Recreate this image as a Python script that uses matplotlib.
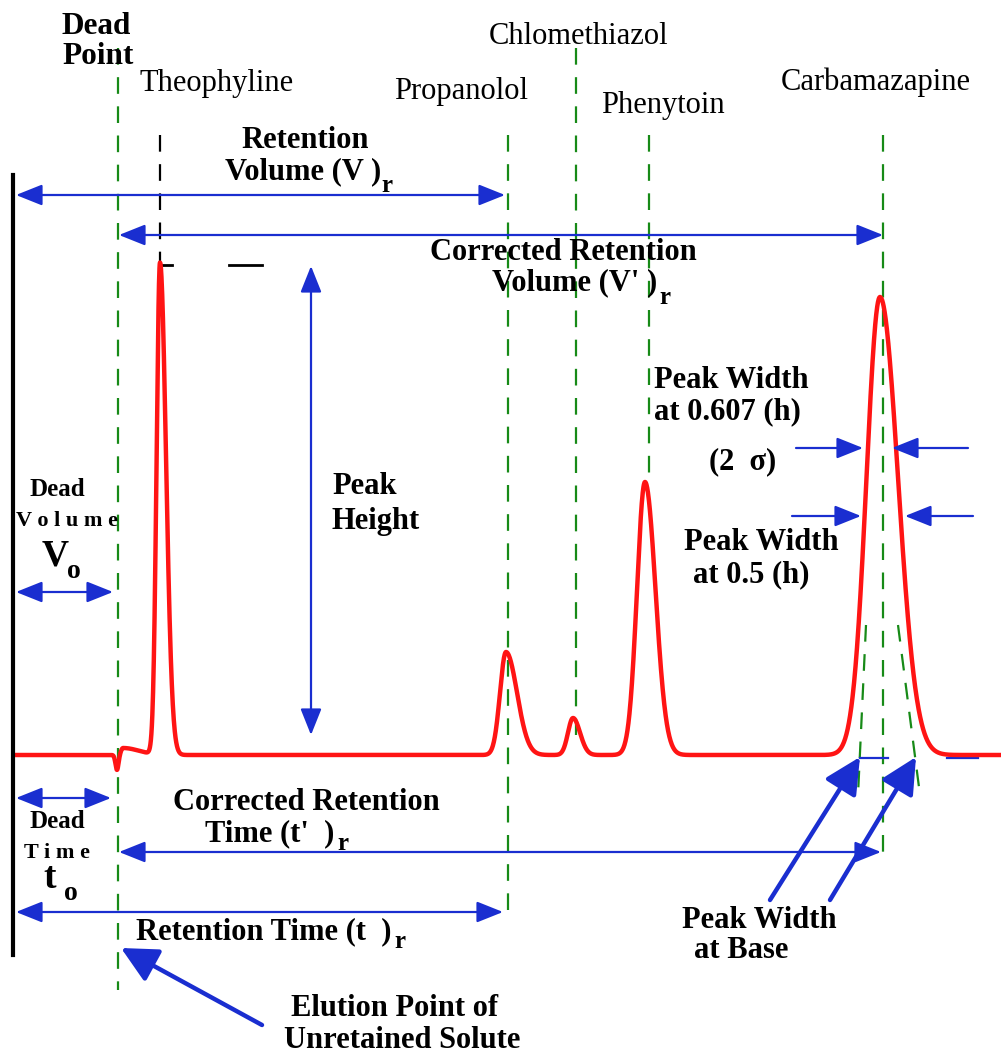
"""
Chromatogram diagram: retention volume / time, peak height and peak widths.
"""

import numpy as np
import matplotlib
matplotlib.use('Agg')
import matplotlib.pyplot as plt

plt.rcParams['font.family'] = ['Liberation Serif', 'DejaVu Serif']
plt.rcParams['lines.scale_dashes'] = False

# ── 색상 / 기본 설정 ──
RED = '#ff1414'
BLUE = '#1a2ed0'
GREEN = '#178a17'
BASE_PX = 755          # baseline row of the picture (pixels from top)
W, H = 1001, 1053

# ── 피크 데이터 (위치, 높이, 왼쪽/오른쪽 폭) ──
peak_names = ['Theophyline', 'Propanolol', 'Chlomethiazol', 'Phenytoin', 'Carbamazapine']
peak_pos = [160, 506, 573, 645, 880]
peak_height = [492, 103, 37, 273, 458]
peak_sig_left = [3.4, 6.0, 5.0, 8.0, 13.5]
peak_sig_right = [6.0, 11.0, 7.0, 10.5, 18.0]

# dead-point disturbance (dip + small step)
dist_pos = [117, 123]
dist_height = [-15, 7]
dist_sig_left = [1.5, 2.0]
dist_sig_right = [1.5, 16.0]

# ── 피크 라벨 위치 ──
label_x = [217, 461, 579, 663, 876]
label_y = [84, 91, 37, 106, 82]


def Y(p):
    """pixel row -> data y (up = signal)"""
    return BASE_PX - p


def bigauss(x, pos, h, sl, sr):
    s = np.where(x < pos, sl, sr)
    return h * np.exp(-0.5 * ((x - pos) / s) ** 2)


fig = plt.figure(figsize=(W / 100, H / 100), dpi=100)
ax = fig.add_axes([0, 0, 1, 1])
ax.set_xlim(0, W)
ax.set_ylim(Y(H), Y(0))
ax.axis('off')

# ── 크로마토그램 ──
x = np.linspace(15, W, 4000)
signal = np.zeros_like(x)
for p, h, sl, sr in zip(peak_pos, peak_height, peak_sig_left, peak_sig_right):
    signal += bigauss(x, p, h, sl, sr)
for p, h, sl, sr in zip(dist_pos, dist_height, dist_sig_left, dist_sig_right):
    signal += bigauss(x, p, h, sl, sr)
ax.plot(x, signal, color=RED, lw=3.2, solid_joinstyle='round', zorder=3)

# ── 검은 세로축 ──
ax.plot([13, 13], [Y(175), Y(955)], color='black', lw=3.0, zorder=4)

# ── 초록 점선 (머무름 위치) ──
DASH = (0, (12, 9))
green_lines = [
    (118, 48, 990),
    (508, 135, 918),
    (576, 48, 735),
    (649, 135, 482),
    (883, 135, 860),
]
for gx, y0, y1 in green_lines:
    ax.plot([gx, gx], [Y(y0), Y(y1)], color=GREEN, lw=1.6, ls=DASH, zorder=2)
# tangent lines of the last peak
ax.plot([866, 858], [Y(625), Y(795)], color=GREEN, lw=1.6, ls=DASH, zorder=2)
ax.plot([898, 920], [Y(625), Y(795)], color=GREEN, lw=1.6, ls=DASH, zorder=2)

# Theophyline black marker
ax.plot([160, 160], [Y(135), Y(262)], color='black', lw=1.6, ls=DASH, zorder=2)
ax.plot([160, 172], [Y(265), Y(265)], color='black', lw=2.0)
ax.plot([229, 262], [Y(265), Y(265)], color='black', lw=2.0)


def arrow(x0, y0, x1, y1, style='<|-|>', lw=1.6, hl=0.9, hw=0.36, ms=18):
    ax.annotate('', xy=(x1, Y(y1)), xytext=(x0, Y(y0)),
                arrowprops=dict(arrowstyle=f'{style},head_length={hl},head_width={hw}',
                                color=BLUE, lw=lw, shrinkA=0, shrinkB=0,
                                mutation_scale=ms), zorder=5)


# ── 파란 화살표 ──
arrow(16, 195, 505, 195)            # retention volume
arrow(119, 235, 883, 235)           # corrected retention volume
arrow(311, 266, 311, 735)           # peak height
arrow(16, 592, 113, 592)            # dead volume
arrow(16, 798, 111, 798)            # dead time
arrow(119, 852, 881, 852)           # corrected retention time
arrow(16, 912, 503, 912)            # retention time
arrow(796, 448, 863, 448, style='-|>')
arrow(968, 448, 892, 448, style='-|>')
arrow(792, 516, 861, 516, style='-|>')
arrow(973, 516, 905, 516, style='-|>')
arrow(770, 900, 860, 757, style='-|>', lw=3.2, hl=1.0, hw=0.5, ms=22)
arrow(830, 900, 916, 757, style='-|>', lw=3.2, hl=1.0, hw=0.5, ms=22)
arrow(262, 1025, 121, 948, style='-|>', lw=3.2, hl=1.0, hw=0.5, ms=22)
ax.plot([860, 888], [Y(758), Y(758)], color=BLUE, lw=1.6)
ax.plot([947, 978], [Y(758), Y(758)], color=BLUE, lw=1.6)

# ── 피크 이름 ──
for name, lx, ly in zip(peak_names, label_x, label_y):
    ax.text(lx, Y(ly), name, fontsize=22, ha='center', va='center')


def btext(x0, y0, s, size=22, ha='center', **kw):
    ax.text(x0, Y(y0), s, fontsize=size, fontweight='bold', ha=ha, va='center', **kw)


btext(62, 27, 'Dead', size=22.5, ha='left')
btext(62, 57, 'Point', size=22.5, ha='left')

btext(305, 141, 'Retention')
btext(381, 172, 'Volume (V )', ha='right')
btext(381, 186, 'r', size=18, ha='left')

btext(563, 252, 'Corrected Retention')
btext(657, 283, "Volume (V' )", ha='right')
btext(659, 298, 'r', size=18, ha='left')

btext(332, 487, 'Peak', ha='left')
btext(332, 521, 'Height', ha='left')

btext(57, 490, 'Dead', size=18)
btext(67, 521, 'V o l u m e', size=16)
btext(55, 556, 'V', size=27)
btext(74, 572, 'o', size=20)

btext(654, 381, 'Peak Width', ha='left')
btext(654, 412, 'at 0.607 (h)', ha='left')
btext(743, 462, '(2  σ)')

btext(761, 543, 'Peak Width')
btext(751, 575, 'at 0.5 (h)')

btext(306, 802, 'Corrected Retention')
btext(334, 834, "Time (t'  )", ha='right')
btext(337, 844, 'r', size=18, ha='left')

btext(57, 822, 'Dead', size=18)
btext(57, 853, 'T i m e', size=16)
btext(50, 878, 't', size=27)
btext(71, 893, 'o', size=20)

btext(392, 932, 'Retention Time (t  )', ha='right')
btext(394, 942, 'r', size=18, ha='left')

btext(759, 920, 'Peak Width')
btext(741, 950, 'at Base')

btext(395, 1009, 'Elution Point of')
btext(402, 1040, 'Unretained Solute')

fig.savefig('out.png', dpi=100, facecolor='white')
